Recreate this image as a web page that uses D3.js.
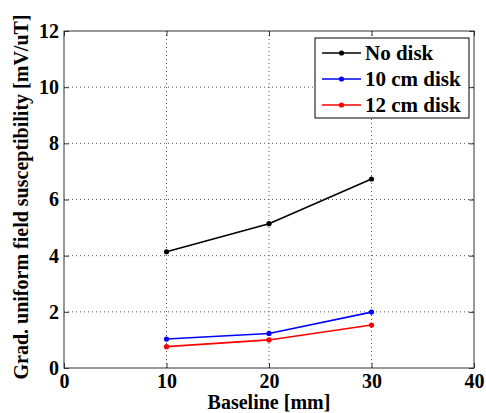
<!DOCTYPE html>
<html>
<head>
<meta charset="utf-8">
<script src="https://cdn.jsdelivr.net/npm/d3@7"></script>
<style>
  body { margin: 0; background: #fff; }
  text { font-family: "Liberation Serif", "Times New Roman", serif; font-weight: bold; }
</style>
</head>
<body>
<svg id="chart" width="486" height="413"></svg>
<script>
// valores
var baseline = [10, 20, 30];
var noDisk = [4.14, 5.14, 6.73];
var disk10 = [1.03, 1.23, 1.99];
var disk12 = [0.76, 1.0, 1.53];
var seriesNames = ["No disk", "10 cm disk", "12 cm disk"];
var seriesColors = ["#000000", "#0000ff", "#ff0000"];
var xTicks = [0, 10, 20, 30, 40];
var yTicks = [0, 2, 4, 6, 8, 10, 12];

var svg = d3.select("#chart");
var margin = { top: 31, right: 12, bottom: 45, left: 64 };
var width = 486 - margin.left - margin.right;
var height = 413 - margin.top - margin.bottom;

var x = d3.scaleLinear().domain([0, 40]).range([0, width]);
var y = d3.scaleLinear().domain([0, 12]).range([height, 0]);

var g = svg.append("g").attr("transform", "translate(" + margin.left + "," + margin.top + ")");

// rejilla punteada
g.selectAll(".gx").data(xTicks.slice(1, -1)).enter().append("line")
  .attr("x1", function(d) { return x(d); }).attr("x2", function(d) { return x(d); })
  .attr("y1", 0).attr("y2", height)
  .attr("stroke", "#555").attr("stroke-width", 1).attr("stroke-dasharray", "1,3");
g.selectAll(".gy").data(yTicks.slice(1, -1)).enter().append("line")
  .attr("x1", 0).attr("x2", width)
  .attr("y1", function(d) { return y(d); }).attr("y2", function(d) { return y(d); })
  .attr("stroke", "#555").attr("stroke-width", 1).attr("stroke-dasharray", "1,3");

// ejes con marcas hacia dentro
var axisStyle = function(sel) {
  sel.select(".domain").remove();
  sel.selectAll(".tick line").attr("stroke", "#333");
  sel.selectAll(".tick text").attr("fill", "#000").style("font-size", "20px");
};
g.append("g").attr("transform", "translate(0," + height + ")")
  .call(d3.axisBottom(x).tickValues(xTicks).tickSize(-5).tickFormat(d3.format("d")))
  .call(axisStyle)
  .selectAll(".tick text").attr("dy", null).attr("y", 20);
g.append("g")
  .call(d3.axisLeft(y).tickValues(yTicks).tickSize(-5).tickPadding(5).tickFormat(d3.format("d")))
  .call(axisStyle);
g.append("g")
  .call(d3.axisTop(x).tickValues(xTicks).tickSize(-5).tickFormat(""))
  .call(axisStyle);
g.append("g").attr("transform", "translate(" + width + ",0)")
  .call(d3.axisRight(y).tickValues(yTicks).tickSize(-5).tickFormat(""))
  .call(axisStyle);

g.append("rect").attr("width", width).attr("height", height)
  .attr("fill", "none").attr("stroke", "#333").attr("stroke-width", 1);

// series
var allSeries = [noDisk, disk10, disk12];
var line = d3.line()
  .x(function(d, i) { return x(baseline[i]); })
  .y(function(d) { return y(d); });

allSeries.forEach(function(vals, k) {
  g.append("path").datum(vals)
    .attr("fill", "none").attr("stroke", seriesColors[k]).attr("stroke-width", 1.6)
    .attr("d", line);
  g.selectAll(".pt" + k).data(vals).enter().append("circle")
    .attr("cx", function(d, i) { return x(baseline[i]); })
    .attr("cy", function(d) { return y(d); })
    .attr("r", 2.6).attr("fill", seriesColors[k]);
});

// leyenda
var legend = g.append("g").attr("transform", "translate(" + (315 - margin.left) + "," + (38 - margin.top) + ")");
legend.append("rect").attr("width", 154).attr("height", 80)
  .attr("fill", "#fff").attr("stroke", "#000").attr("stroke-width", 1);
seriesNames.forEach(function(name, k) {
  var yy = 15 + k * 26;
  legend.append("line").attr("x1", 7).attr("x2", 46).attr("y1", yy).attr("y2", yy)
    .attr("stroke", seriesColors[k]).attr("stroke-width", 1.6);
  legend.append("circle").attr("cx", 26.5).attr("cy", yy).attr("r", 2.6).attr("fill", seriesColors[k]);
  legend.append("text").attr("x", 50).attr("y", yy + 6.5).style("font-size", "21px").text(name);
});

// títulos de ejes
svg.append("text")
  .attr("x", margin.left + width / 2).attr("y", 409)
  .attr("text-anchor", "middle").style("font-size", "20px")
  .text("Baseline [mm]");
svg.append("text")
  .attr("transform", "translate(28,197) rotate(-90)")
  .attr("text-anchor", "middle").style("font-size", "20px")
  .text("Grad. uniform field susceptibility [mV/uT]");
</script>
</body>
</html>
